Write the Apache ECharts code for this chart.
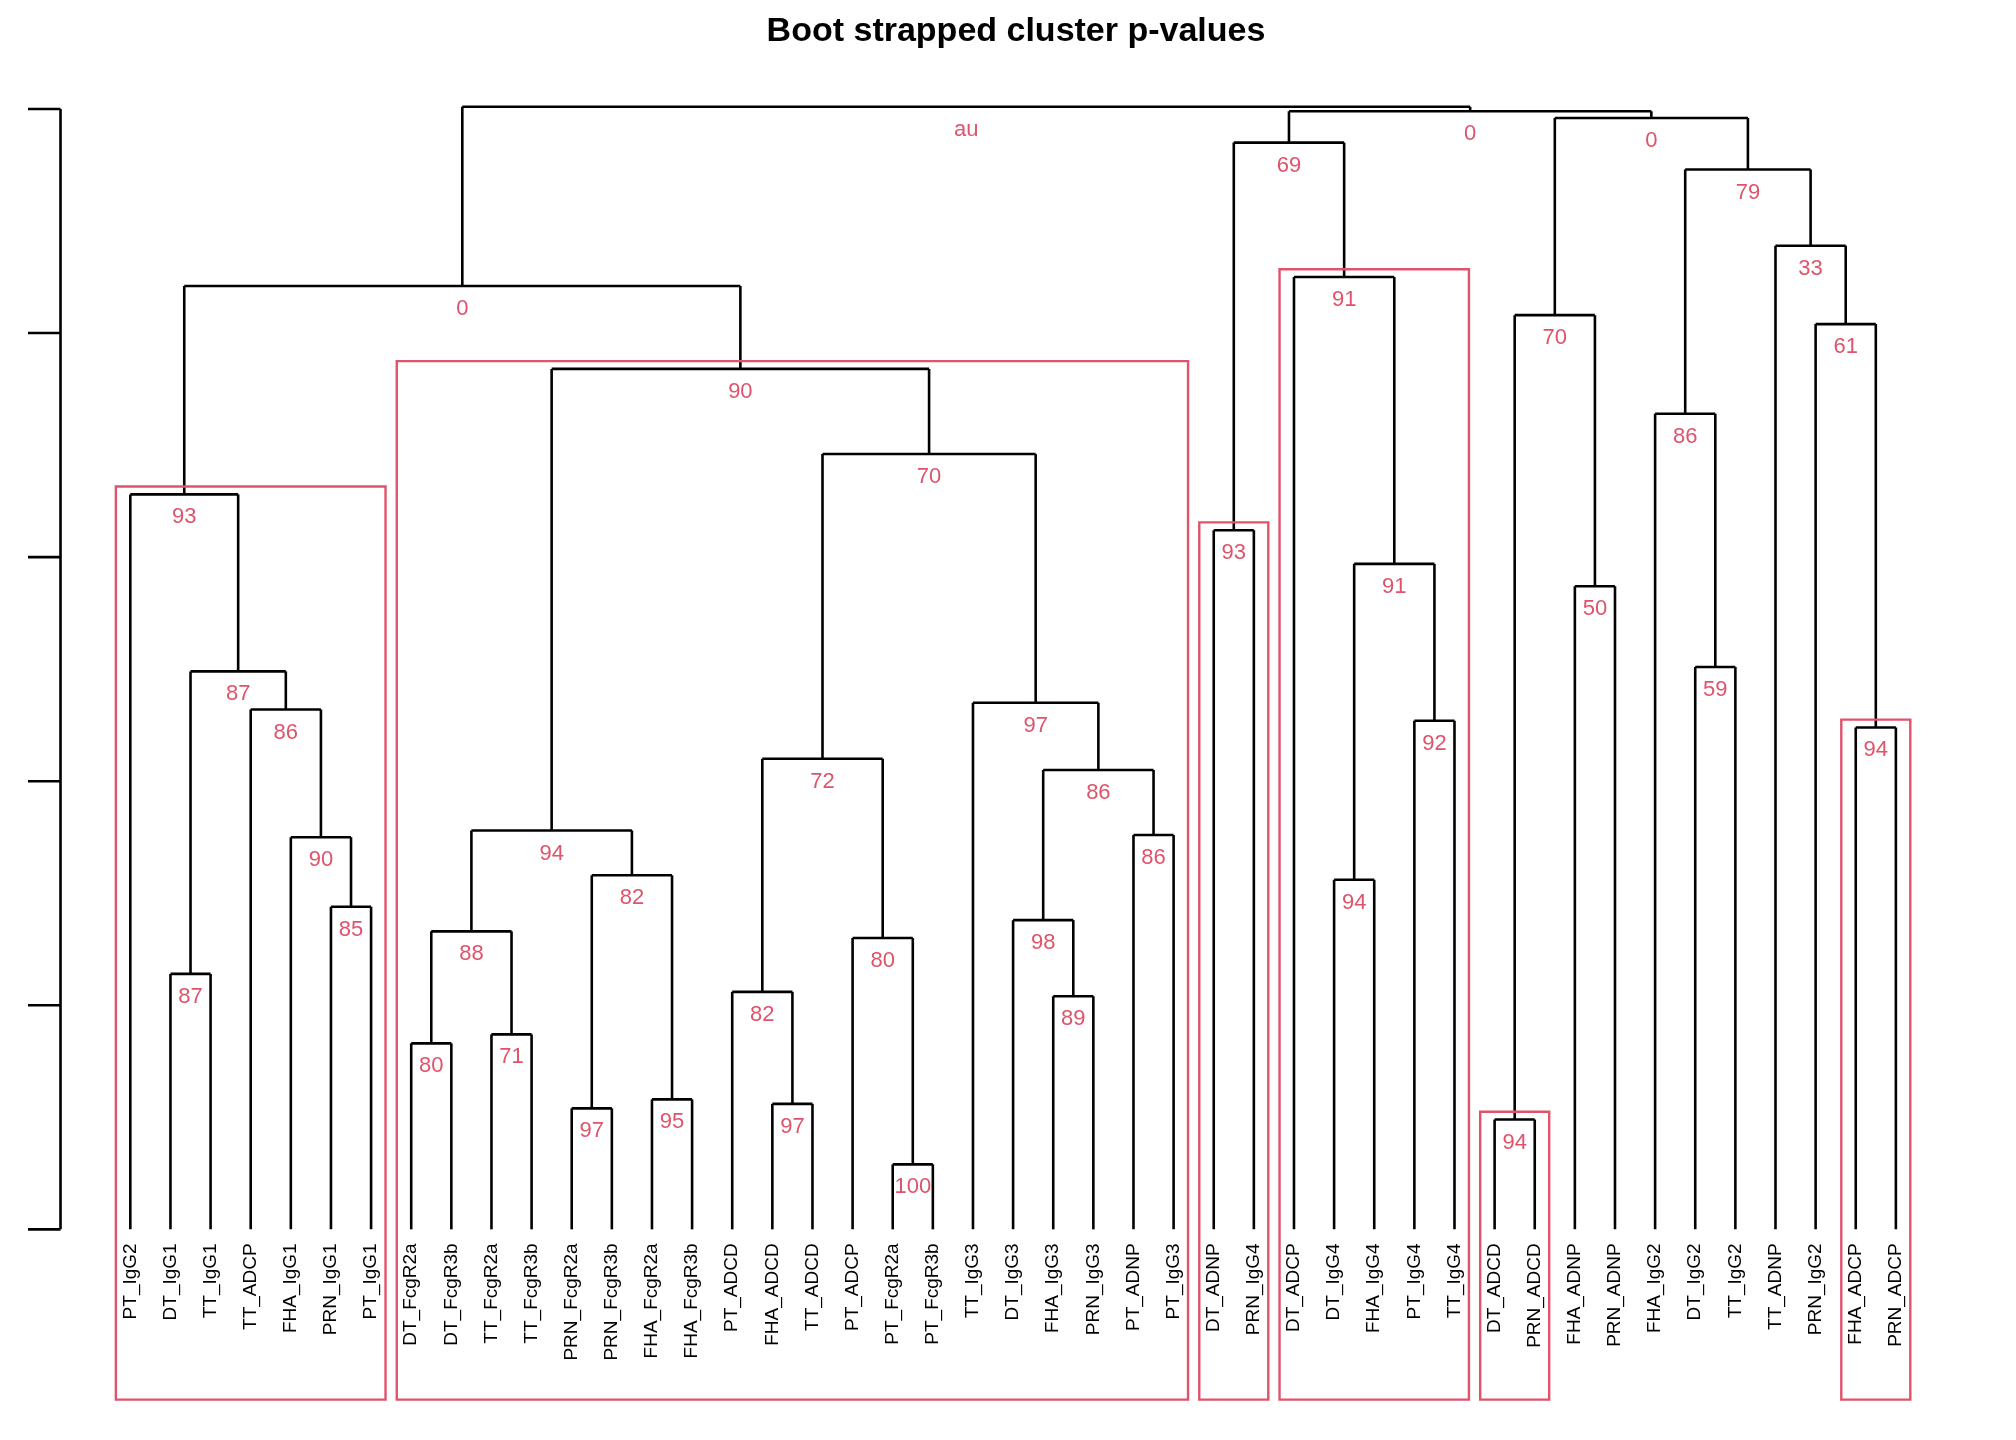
<!DOCTYPE html>
<html><head><meta charset="utf-8">
<script src="https://cdn.jsdelivr.net/npm/echarts@6/dist/echarts.min.js"></script>
<style>html,body{margin:0;background:#fff}#c{width:2016px;height:1440px}</style>
</head><body><div id="c"></div>
<script>
const leaves = ["PT_IgG2","DT_IgG1","TT_IgG1","TT_ADCP","FHA_IgG1","PRN_IgG1","PT_IgG1",
"DT_FcgR2a","DT_FcgR3b","TT_FcgR2a","TT_FcgR3b","PRN_FcgR2a","PRN_FcgR3b","FHA_FcgR2a","FHA_FcgR3b",
"PT_ADCD","FHA_ADCD","TT_ADCD","PT_ADCP","PT_FcgR2a","PT_FcgR3b","TT_IgG3","DT_IgG3","FHA_IgG3","PRN_IgG3","PT_ADNP","PT_IgG3",
"DT_ADNP","PRN_IgG4","DT_ADCP","DT_IgG4","FHA_IgG4","PT_IgG4","TT_IgG4","DT_ADCD","PRN_ADCD",
"FHA_ADNP","PRN_ADNP","FHA_IgG2","DT_IgG2","TT_IgG2","TT_ADNP","PRN_IgG2","FHA_ADCP","PRN_ADCP"];
// [childA, childB, height, au]
const merges = [
 ["PRN_IgG1","PT_IgG1",1.44,85],["FHA_IgG1","n0",1.75,90],["TT_ADCP","n1",2.32,86],
 ["DT_IgG1","TT_IgG1",1.14,87],["n3","n2",2.49,87],["PT_IgG2","n4",3.28,93],
 ["DT_FcgR2a","DT_FcgR3b",0.83,80],["TT_FcgR2a","TT_FcgR3b",0.87,71],["n6","n7",1.33,88],
 ["PRN_FcgR2a","PRN_FcgR3b",0.54,97],["FHA_FcgR2a","FHA_FcgR3b",0.58,95],["n9","n10",1.58,82],
 ["n8","n11",1.78,94],["FHA_ADCD","TT_ADCD",0.56,97],["PT_ADCD","n13",1.06,82],
 ["PT_FcgR2a","PT_FcgR3b",0.29,100],["PT_ADCP","n15",1.30,80],["n14","n16",2.10,72],
 ["FHA_IgG3","PRN_IgG3",1.04,89],["DT_IgG3","n18",1.38,98],["PT_ADNP","PT_IgG3",1.76,86],
 ["n19","n20",2.05,86],["TT_IgG3","n21",2.35,97],["n17","n22",3.46,70],["n12","n23",3.84,90],
 ["n5","n24",4.21,0],["DT_ADNP","PRN_IgG4",3.12,93],["DT_IgG4","FHA_IgG4",1.56,94],
 ["PT_IgG4","TT_IgG4",2.27,92],["n27","n28",2.97,91],["DT_ADCP","n29",4.25,91],
 ["n26","n30",4.85,69],["DT_ADCD","PRN_ADCD",0.49,94],["FHA_ADNP","PRN_ADNP",2.87,50],
 ["n32","n33",4.08,70],["DT_IgG2","TT_IgG2",2.51,59],["FHA_IgG2","n35",3.64,86],
 ["FHA_ADCP","PRN_ADCP",2.24,94],["PRN_IgG2","n37",4.04,61],["TT_ADNP","n38",4.39,33],
 ["n36","n39",4.73,79],["n34","n40",4.96,0],["n31","n41",4.99,0],["n25","n42",5.01,"au"]
];
const boxNodes = ["n5","n24","n26","n30","n32","n37"];
const yTicks = [0,1,2,3,4,5];

const RED = "#DF536B";
const pos = {}, hgt = {}, span = {};
leaves.forEach((l,i)=>{pos[l]=i;hgt[l]=0;span[l]=[i,i];});
const segs = [], labs = [];
merges.forEach((m,k)=>{
  const id="n"+k, [a,b,h,au]=m;
  pos[id]=(pos[a]+pos[b])/2; hgt[id]=h;
  span[id]=[Math.min(span[a][0],span[b][0]),Math.max(span[a][1],span[b][1])];
  segs.push([pos[a],hgt[a],pos[a],h]);
  segs.push([pos[b],hgt[b],pos[b],h]);
  segs.push([pos[a],h,pos[b],h]);
  labs.push([pos[id],h,String(au)]);
});
const boxes = boxNodes.map(n=>[span[n][0]-0.36,-0.76,span[n][1]+0.36,hgt[n]+0.035]);
const axisSegs = [[-1.74,0,-1.74,5]].concat(yTicks.map(t=>[-1.74,t,-2.55,t]));

const chart = echarts.init(document.getElementById('c'));
chart.setOption({
  animation:false,
  title:{text:"Boot strapped cluster p-values",left:1011,top:10,textAlign:'center',
    textStyle:{fontFamily:'Liberation Sans, Arial',fontSize:34,fontWeight:'bold',color:'#000'}},
  grid:{left:26,width:1910,top:109,height:1322},
  xAxis:{type:'value',min:-2.6,max:45,show:false},
  yAxis:{type:'value',min:-0.9,max:5.0,show:false},
  series:[
    {type:'custom',clip:false,data:segs.concat(axisSegs),
     renderItem:(p,api)=>{const s=api.coord([api.value(0),api.value(1)]),e=api.coord([api.value(2),api.value(3)]);
       return {type:'line',shape:{x1:s[0],y1:s[1],x2:e[0],y2:e[1]},style:{stroke:'#000',lineWidth:2.6}};}},
    {type:'custom',clip:false,data:boxes,
     renderItem:(p,api)=>{const s=api.coord([api.value(0),api.value(3)]),e=api.coord([api.value(2),api.value(1)]);
       return {type:'rect',shape:{x:s[0],y:s[1],width:e[0]-s[0],height:e[1]-s[1]},style:{fill:'none',stroke:RED,lineWidth:2.4}};}},
    {type:'custom',clip:false,data:labs.map(l=>[l[0],l[1]]),
     renderItem:(p,api)=>{const c=api.coord([api.value(0),api.value(1)]);
       return {type:'text',x:c[0],y:c[1]+12,style:{text:labs[p.dataIndex][2],fill:RED,fontSize:22,
         fontFamily:'Liberation Sans, Arial',align:'center',verticalAlign:'top'}};}},
    {type:'custom',clip:false,data:leaves.map((l,i)=>[i,0]),
     renderItem:(p,api)=>{const c=api.coord([api.value(0),api.value(1)]);
       return {type:'text',x:c[0],y:c[1]+14,rotation:Math.PI/2,style:{text:leaves[p.dataIndex],fill:'#000',fontSize:19,
         fontFamily:'Liberation Sans, Arial',align:'right',verticalAlign:'middle'}};}}
  ]
});
</script></body></html>
